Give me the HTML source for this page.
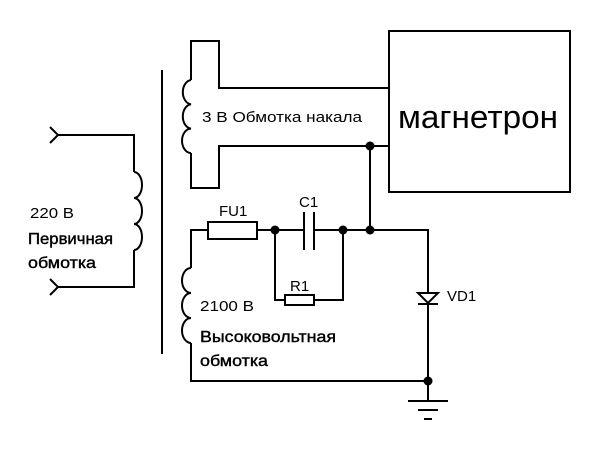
<!DOCTYPE html>
<html><head><meta charset="utf-8"><style>html,body{margin:0;padding:0;background:#fff}svg{display:block}</style></head>
<body>
<svg width="600" height="450" viewBox="0 0 600 450" xmlns="http://www.w3.org/2000/svg" font-family="Liberation Sans, sans-serif" fill="none" stroke="#000" stroke-width="2">
<line x1="162" y1="70" x2="162" y2="354"/>
<polyline points="58,135 134,135 134,172"/>
<path d="M134,172 a8,13 0 0 1 0,26 a8,13 0 0 1 0,26 a8,13 0 0 1 0,26"/>
<polyline points="134,250 134,287 58,287"/>
<polyline points="50,127 58,135 50,143"/>
<polyline points="50,279 58,287 50,295"/>
<polyline points="191,80 191,41 219,41 219,88 388,88"/>
<polyline points="191,153 191,188 219,188 219,146 388,146"/>
<path d="M191,80 a9,12.2 0 0 0 0,24.3 a9,12.2 0 0 0 0,24.3 a9,12.2 0 0 0 0,24.4"/>
<rect x="389" y="31" width="181" height="161"/>
<line x1="370" y1="146" x2="370" y2="230"/>
<polyline points="191,268 191,230 208,230"/>
<polyline points="257,230 304,230"/>
<polyline points="314,230 428,230 428,293"/>
<rect x="208" y="222" width="49" height="17"/>
<line x1="304" y1="212" x2="304" y2="250"/>
<line x1="314" y1="212" x2="314" y2="250"/>
<polyline points="275,230 275,300 285,300"/>
<polyline points="314,300 343,300 343,230"/>
<rect x="285" y="295" width="29" height="10"/>
<path d="M191,268 a9,12.5 0 0 0 0,25 a9,12.5 0 0 0 0,25 a9,12.5 0 0 0 0,25"/>
<polyline points="191,343 191,381 428,381"/>
<polygon points="418,293 438,293 428,303"/>
<line x1="418" y1="304" x2="438" y2="304"/>
<line x1="428" y1="303" x2="428" y2="401"/>
<line x1="408" y1="401" x2="448" y2="401"/>
<line x1="418" y1="410" x2="438" y2="410"/>
<line x1="424" y1="419" x2="432" y2="419"/>
<g fill="#000" stroke="none">
<circle cx="370" cy="146" r="4.5"/><circle cx="275" cy="230" r="4.5"/><circle cx="343" cy="230" r="4.5"/><circle cx="370" cy="230" r="4.5"/><circle cx="428" cy="381" r="4.5"/>
<text x="398" y="128" font-size="32" textLength="160" lengthAdjust="spacingAndGlyphs">магнетрон</text>
<text x="202" y="122" font-size="15" textLength="160" lengthAdjust="spacingAndGlyphs">3 В  Обмотка накала</text>
<text x="30" y="218" font-size="15" textLength="44" lengthAdjust="spacingAndGlyphs">220 В</text>
<text x="219" y="216" font-size="15">FU1</text>
<text x="299" y="207" font-size="15">C1</text>
<text x="290" y="291" font-size="15">R1</text>
<text x="447" y="301" font-size="15">VD1</text>
<text x="200" y="311" font-size="15" textLength="54" lengthAdjust="spacingAndGlyphs">2100 В</text>
</g>
<g fill="#000" stroke="#000" stroke-width="0.4">
<text x="28" y="244" font-size="16" textLength="85" lengthAdjust="spacingAndGlyphs">Первичная</text>
<text x="28" y="268" font-size="16" textLength="68" lengthAdjust="spacingAndGlyphs">обмотка</text>
<text x="200" y="342" font-size="16" textLength="136" lengthAdjust="spacingAndGlyphs">Высоковольтная</text>
<text x="200" y="366" font-size="16" textLength="68" lengthAdjust="spacingAndGlyphs">обмотка</text>
</g>
</svg>
</body></html>
